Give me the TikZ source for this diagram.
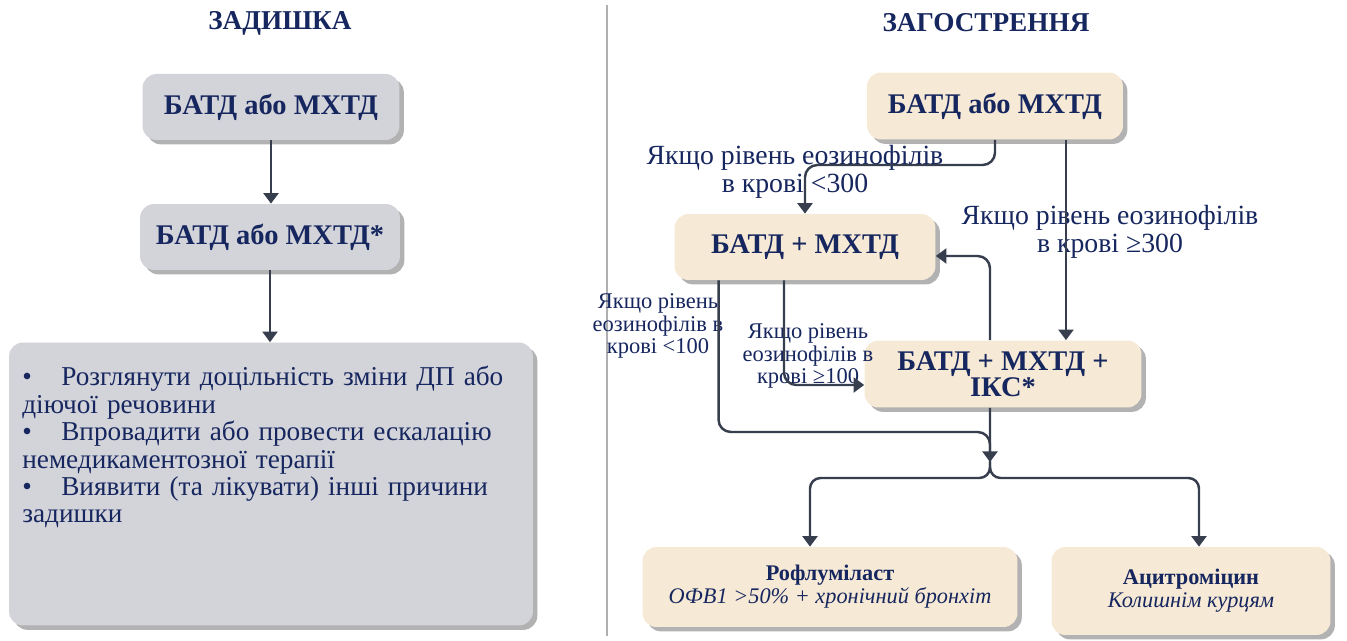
\documentclass[tikz,border=0pt]{standalone}
\usepackage{fontspec}
\setmainfont{Liberation Serif}
\usepackage{tikz}
\usetikzlibrary{arrows.meta,shadows}
\definecolor{navy}{RGB}{22,38,94}
\definecolor{linkgray}{RGB}{55,62,78}
\definecolor{boxgray}{RGB}{211,211,218}
\definecolor{boxbeige}{RGB}{246,233,213}
\definecolor{divgray}{RGB}{175,175,178}
\tikzset{
    gblock/.style = {
        shape=rectangle,
        fill=boxgray,
        rounded corners=8pt,
        drop shadow={shadow xshift=2.5pt, shadow yshift=-2.5pt, fill=black!55, opacity=.55},
        text=navy,
        font=\bfseries\fontsize{16.2}{16.5}\selectfont
    },
    pblock/.style = {
        gblock,
        fill=boxbeige
    },
    heading/.style = {
        text=navy,
        font=\bfseries\fontsize{15.5}{16}\selectfont
    },
    cond/.style = {
        text=navy,
        align=center,
        font=\fontsize{15.8}{15.9}\selectfont
    },
    scond/.style = {
        text=navy,
        align=center,
        font=\fontsize{12.8}{12.6}\selectfont
    },
    link/.style = {
        draw=linkgray,
        line width=1.4pt,
        rounded corners=7pt
    },
    >={Triangle[width=8.5pt,length=6pt]},
}

\begin{document}
\begin{tikzpicture}[x=0.02cm, y=-0.02cm]
                \useasboundingbox (0,0) rectangle (1347,641);

                % left side
                \node[heading] (dysp) at (280,23) {ЗАДИШКА};
                \node[gblock, minimum width=5.14cm, minimum height=1.32cm] (lbox1) at (271,107) {БАТД або МХТД};
                \node[gblock, minimum width=5.2cm, minimum height=1.32cm] (lbox2) at (270,237) {БАТД або МХТД*};
                \node[gblock, minimum width=10.48cm, minimum height=5.66cm] (lbox3) at (271,484) {};
                \node[anchor=north west, inner sep=0pt, text width=10cm, text=navy,
                      font=\fontsize{15.5}{15.6}\selectfont] (lnote) at (22,366)
                    {\makebox[0.78cm][l]{\textbullet}Розглянути доцільність зміни ДП або\\
                     діючої речовини\\
                     \makebox[0.78cm][l]{\textbullet}Впровадити або провести ескалацію\\
                     немедикаментозної терапії\\
                     \makebox[0.78cm][l]{\textbullet}Виявити (та лікувати) інші причини\\
                     задишки};

                \path[draw, link, ->] (lbox1.south) -- (lbox1.south |- lbox2.north);
                \path[draw, link, ->] (lbox2.south) -- (lbox2.south |- lbox3.north);

                % divider
                \path[draw, divgray, line width=1.2pt] (607,5) -- (607,636);

                % right side
                \node[heading] (exac) at (986,23) {ЗАГОСТРЕННЯ};
                \node[pblock, minimum width=5.12cm, minimum height=1.34cm] (rbox1) at (995,106) {БАТД або МХТД};
                \node[pblock, minimum width=5.22cm, minimum height=1.32cm] (rbox2) at (805,247) {БАТД + МХТД};
                \node[pblock, minimum width=5.54cm, minimum height=1.34cm, align=center,
                      font=\bfseries\fontsize{16.2}{14.8}\selectfont] (rbox3) at (1003,374) {БАТД + МХТД +\\ІКС*};
                \node[pblock, minimum width=7.5cm, minimum height=1.6cm, align=center,
                      font=\fontsize{12.7}{13}\selectfont] (rbox4) at (830,587)
                    {\textbf{Рофлуміласт}\\\textit{ОФВ1 >50\% + хронічний бронхіт}};
                \node[pblock, minimum width=5.58cm, minimum height=1.76cm, align=center,
                      font=\fontsize{12.7}{13}\selectfont] (rbox5) at (1191,591)
                    {\textbf{Ацитроміцин}\\\textit{Колишнім курцям}};

                \node[cond] (low300) at (795,172) {Якщо рівень еозинофілів\\в крові <300};
                \node[cond] (high300) at (1110,232) {Якщо рівень еозинофілів\\в крові ≥300};
                \node[scond] (low100) at (658,326) {Якщо рівень\\еозинофілів в\\крові <100};
                \node[scond] (high100) at (808,356) {Якщо рівень\\еозинофілів в\\крові ≥100};

                \coordinate (k300) at (805,165);
                \coordinate (merge) at (990,432);
                \coordinate (split) at (990,462);
                \coordinate (lfork) at (810,478);
                \coordinate (rfork) at (1199,478);

                \path[draw, link, ->] (rbox1.south) |- (k300) -- (rbox2.north);
                \path[draw, link, ->] ([xshift=1.42cm]rbox1.south) -- ([xshift=1.42cm]rbox1.south |- rbox3.north);
                \path[draw, link, ->] ([xshift=-0.26cm]rbox3.north) |- ([yshift=-0.18cm]rbox2.east);
                \path[draw, link, ->] ([xshift=-0.42cm]rbox2.south) |- ([yshift=-0.22cm]rbox3.west);
                \path[draw, link] ([xshift=-1.73cm]rbox2.south) |- (merge) -- (split);
                \path[draw, link, ->] ([xshift=-0.26cm]rbox3.south) -- (split);
                \path[draw, link, ->, rounded corners=6pt] (split) |- (lfork) -- (lfork |- rbox4.north);
                \path[draw, link, ->, rounded corners=6pt] (split) |- (rfork) -- (rfork |- rbox5.north);
            \end{tikzpicture}
\end{document}
